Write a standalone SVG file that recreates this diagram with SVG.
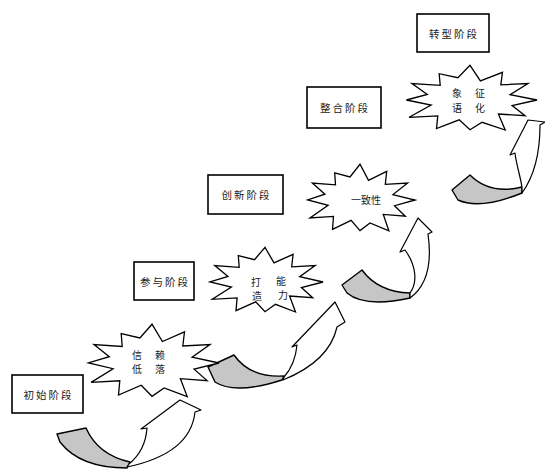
<svg xmlns="http://www.w3.org/2000/svg" width="545" height="472" viewBox="0 0 545 472">
<style>
.box{fill:#fff;stroke:#000;stroke-width:1.6}
.lbl{font-family:"Noto Sans CJK SC","Liberation Sans",sans-serif;font-size:10px;fill:#222;text-anchor:middle;dominant-baseline:central}
.bl{font-family:"Noto Sans CJK SC","Liberation Sans",sans-serif;font-size:10.5px;fill:#222;text-anchor:middle;dominant-baseline:central;letter-spacing:2px}
.burst{fill:#fff;stroke:#000;stroke-width:1.3;stroke-linejoin:miter}
.back{fill:#c6c6c6;stroke:#000;stroke-width:1.4;stroke-linejoin:round}
.front{fill:#fff;stroke:#000;stroke-width:1.2;stroke-linejoin:round}
</style>
<rect width="545" height="472" fill="#fff"/>
<g id="connectors">
<g id="arrow1">
<path class="back" d="M57,434 L86,428 Q98,455 130,462 L127,468 Q80,468 60,442 Z"/>
<path class="front" d="M129,464 C140,455 146,442 147,428 L141,429 L180,400 L201,410 L195,412 C192,440 170,458 127,467 Z"/>
</g>
<g id="arrow2">
<path class="back" d="M208,367 L234,355 Q250,378 284,376 L282,380 Q235,395 215,382 Z"/>
<path class="front" d="M284,377 C292,368 296,356 297,345 L292,347 L335,302 L345,322 L337,327 C333,345 320,365 283,380 Z"/>
</g>
<g id="arrow3">
<path class="back" d="M342,285 L362,270 Q378,292 410,293 L410,298 Q365,308 347,293 Z"/>
<path class="front" d="M410,293 C418,282 416,265 405,250 L400,252 L418,218 L432,232 L428,234 C432,262 428,285 410,298 Z"/>
</g>
<g id="arrow4">
<path class="back" d="M452,190 L470,175 Q490,195 522,187 L522,193 Q480,210 458,200 Z"/>
<path class="front" d="M522,187 C520,175 516,163 515,153 L510,155 L528,120 L545,122 L540,125 C540,150 535,175 522,193 Z"/>
</g>
</g>
<g id="stage1"><rect class="box" x="12" y="375" width="71" height="38"/><text class="bl" x="48.5" y="394">初始阶段</text></g>
<g id="stage2"><rect class="box" x="134" y="262" width="60" height="38"/><text class="bl" x="165" y="281">参与阶段</text></g>
<g id="stage3"><rect class="box" x="208" y="175" width="75" height="39"/><text class="bl" x="246.5" y="194.5">创新阶段</text></g>
<g id="stage4"><rect class="box" x="307" y="87" width="74" height="41"/><text class="bl" x="345" y="107.5">整合阶段</text></g>
<g id="stage5"><rect class="box" x="417" y="14" width="72" height="38"/><text class="bl" x="454" y="33">转型阶段</text></g>
<g id="burst1"><polygon class="burst" points="219,363 194.1,369.2 207.1,380.6 180.4,378.7 187.2,396.6 164.1,388 152,396.3 141.2,385.2 118.5,395 119.8,380.8 91.1,382.4 113.1,368.7 88.4,363 109.3,356.7 94,344.5 122.2,346.5 121.2,333.5 139.9,338 152,324.2 162.4,341.5 184.5,331.9 182.8,346 210,344.5 192.1,357.1"/><text class="lbl" x="137" y="354">信</text><text class="lbl" x="160" y="354">赖</text><text class="lbl" x="137" y="368">低</text><text class="lbl" x="160" y="368">落</text></g>
<g id="burst2"><polygon class="burst" points="323,282 301.4,287.5 312.7,297.7 289.6,296 295.5,312 275.5,304.3 265,311.7 255.7,301.8 236,310.6 237.1,297.9 212.3,299.3 231.4,287.1 209.9,282 228,276.4 214.8,265.5 239.2,267.3 238.3,255.7 254.5,259.7 265,247.3 274,262.9 293.1,254.3 291.7,266.8 315.2,265.5 299.7,276.7"/><text class="lbl" x="256" y="281">打</text><text class="lbl" x="281" y="280">能</text><text class="lbl" x="257" y="295">造</text><text class="lbl" x="283" y="294">力</text></g>
<g id="burst3"><polygon class="burst" points="415,200 394.5,205.7 405.3,216.2 383.3,214.4 388.9,230.9 370,223 360,230.6 351.1,220.4 332.5,229.4 333.5,216.4 310,217.9 328.1,205.3 307.7,200 324.9,194.2 312.4,183 335.5,184.9 334.7,172.9 350,177 360,164.3 368.5,180.3 386.7,171.4 385.3,184.4 407.6,183 392.9,194.6"/><text class="lbl" x="366" y="199">一致性</text></g>
<g id="burst4"><polygon class="burst" points="537,100 512.1,105.5 525.1,115.7 498.4,114 505.2,130 482.1,122.3 470,129.7 459.2,119.8 436.5,128.6 437.8,115.9 409.1,117.3 431.1,105.1 406.4,100 427.3,94.4 412,83.5 440.2,85.3 439.2,73.7 457.9,77.7 470,65.3 480.4,80.9 502.5,72.3 500.8,84.8 528,83.5 510.1,94.7"/><text class="lbl" x="457" y="92">象</text><text class="lbl" x="480" y="92">征</text><text class="lbl" x="457" y="107">语</text><text class="lbl" x="480" y="107">化</text></g>
</svg>
